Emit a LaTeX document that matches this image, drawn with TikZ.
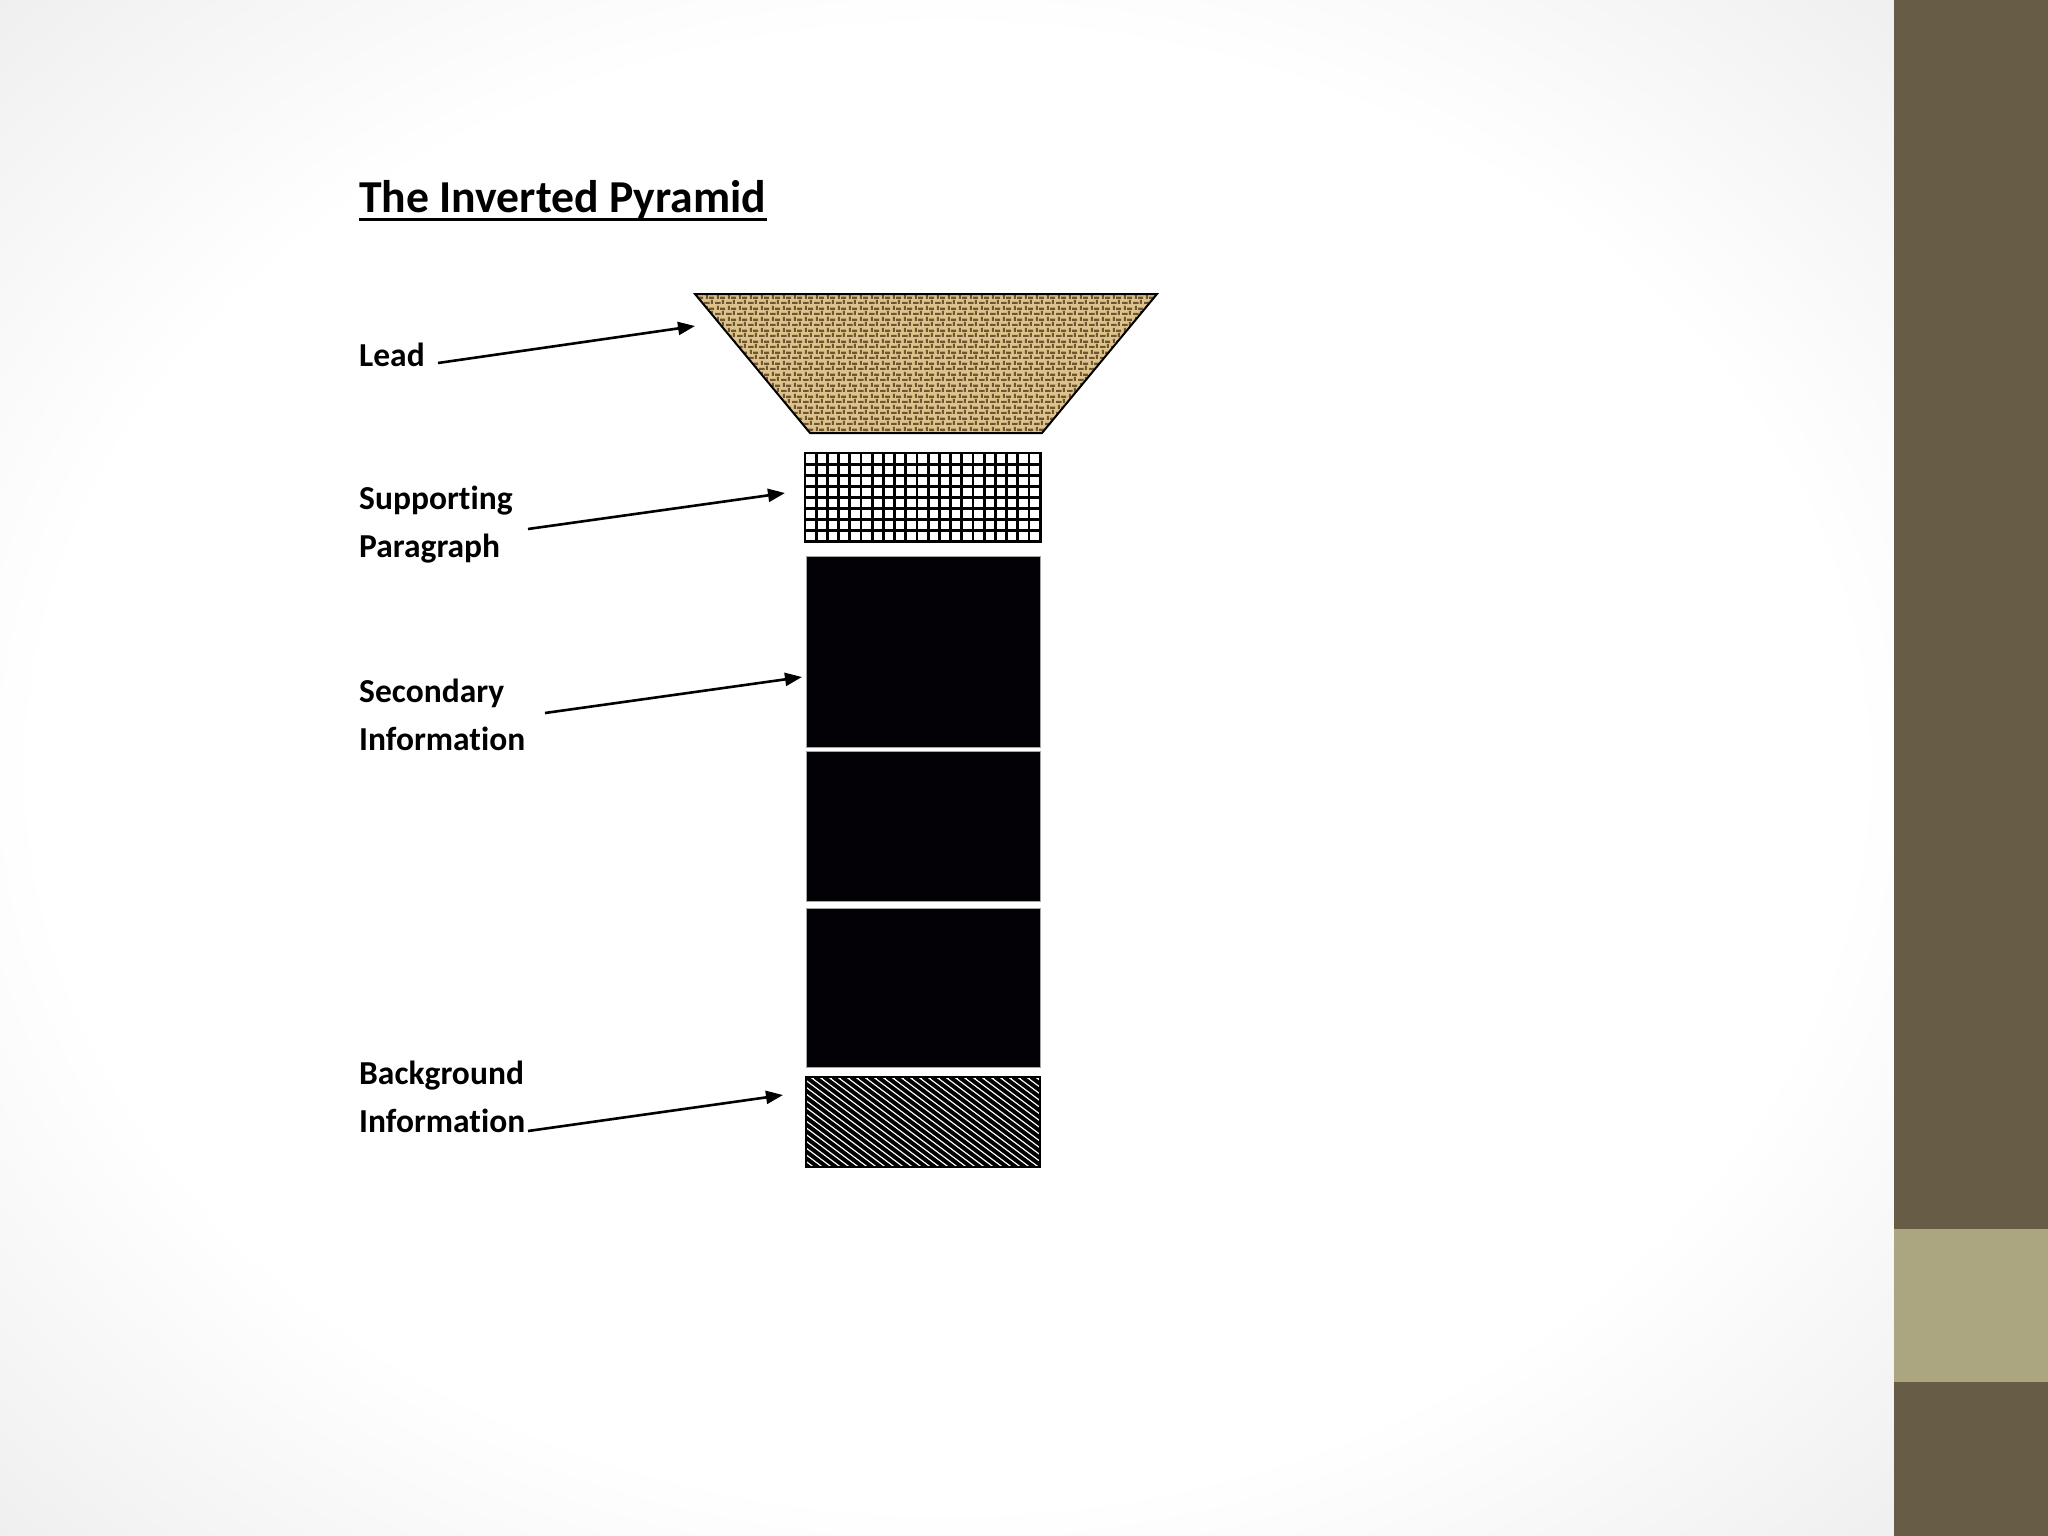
\documentclass[tikz,border=0pt]{standalone}
\usepackage{fontspec}
\setmainfont{Carlito}[Ligatures=NoCommon]
\usetikzlibrary{arrows.meta,patterns.meta}
\definecolor{banddark}{HTML}{675D47}
\definecolor{bandlight}{HTML}{ABA67F}
\definecolor{burlapbase}{HTML}{DCC38C}
\definecolor{burlapdark}{HTML}{5E4420}
\definecolor{nearblack}{HTML}{030105}
\pgfdeclareradialshading{vignette}{\pgfpoint{0bp}{0bp}}{color(0bp)=(white); color(24bp)=(white); color(35bp)=(black!6); color(50bp)=(black!16)}
\tikzdeclarepattern{
  name=burlap,
  type=uncolored,
  bottom left={(0pt,0pt)}, top right={(11pt,11pt)}, tile size={(11pt,11pt)},
  code={
    \pgfpathrectangle{\pgfpoint{0pt}{0pt}}{\pgfpoint{6pt}{2.4pt}}
    \pgfpathrectangle{\pgfpoint{5.5pt}{5.5pt}}{\pgfpoint{5.5pt}{2.4pt}}
    \pgfpathrectangle{\pgfpoint{7.5pt}{0pt}}{\pgfpoint{2.2pt}{4.5pt}}
    \pgfpathrectangle{\pgfpoint{2pt}{5.5pt}}{\pgfpoint{2.2pt}{4.5pt}}
    \pgfusepath{fill}
  }
}
\tikzset{
  lbl/.style={font=\fontsize{33.5}{47.5}\selectfont\bfseries, align=left, inner sep=0pt, anchor=base west},
  pointer/.style={line width=2.6pt, -{Triangle[length=17pt,width=13pt]}},
  blk/.style={fill=nearblack, draw=black!35, line width=1pt},
}
\begin{document}
\begin{tikzpicture}[x=1pt,y=-1pt]
\useasboundingbox (0,0) rectangle (2048,1536);
% background
\shade[shading=vignette] (0,0) rectangle (1894,1536);
\fill[banddark] (1894,0) rectangle (2048,1536);
\fill[bandlight] (1894,1229) rectangle (2048,1382);
% title
\node[font=\fontsize{45.7}{50}\selectfont\bfseries, inner sep=0pt, anchor=base west] (title) at (359,212) {The Inverted Pyramid};
\draw[line width=3pt] (359,219) -- (title.base east |- 0,219);
% lead trapezoid
\fill[burlapbase] (695,294) -- (1157,294) -- (1042,433) -- (810,433) -- cycle;
\fill[pattern=burlap, pattern color=burlapdark, opacity=0.85] (695,294) -- (1157,294) -- (1042,433) -- (810,433) -- cycle;
\draw[line width=2pt, line join=miter] (695,294) -- (1157,294) -- (1042,433) -- (810,433) -- cycle;
% supporting grid box
\fill[white] (805,453) rectangle (1041,542);
\begin{scope}
\clip (805,453) rectangle (1041,542);
\foreach \i in {0,...,21} \draw[line width=2.8pt] ({805+11.2*\i},453) -- ({805+11.2*\i},542);
\foreach \j in {0,...,8} \draw[line width=2.8pt] (805,{453+11.1*\j}) -- (1041,{453+11.1*\j});
\end{scope}
\draw[line width=2.5pt] (805,453) rectangle (1041,542);
% secondary black boxes
\draw[blk] (806,556) rectangle (1040,747);
\draw[blk] (806,751) rectangle (1040,901);
\draw[blk] (806,908) rectangle (1040,1067);
% background hatched box
\fill[white] (806,1077) rectangle (1040,1167);
\begin{scope}
\clip (806,1077) rectangle (1040,1167);
\foreach \k in {-17,...,28} \draw[line width=3.9pt] ({806+9*\k},1077) -- ++(140,105);
\end{scope}
\draw[line width=2.5pt] (806,1077) rectangle (1040,1167);
% labels
\node[lbl] (lead) at (359,366) {Lead};
\node[lbl] (supp) at (359,557) {Supporting\\Paragraph};
\node[lbl] (sec) at (359,750) {Secondary\\Information};
\node[lbl] (back) at (359,1132) {Background\\Information};
% arrow ends
\coordinate (leadtail) at (438,363);
\coordinate (leadtip) at (695,326);
\coordinate (supptail) at (528,529);
\coordinate (supptip) at (785,493);
\coordinate (sectail) at (545,713);
\coordinate (sectip) at (802,677);
\coordinate (backtail) at (528,1131);
\coordinate (backtip) at (783,1095);
\draw[pointer] (leadtail) -- (leadtip);
\draw[pointer] (supptail) -- (supptip);
\draw[pointer] (sectail) -- (sectip);
\draw[pointer] (backtail) -- (backtip);
\end{tikzpicture}
\end{document}
